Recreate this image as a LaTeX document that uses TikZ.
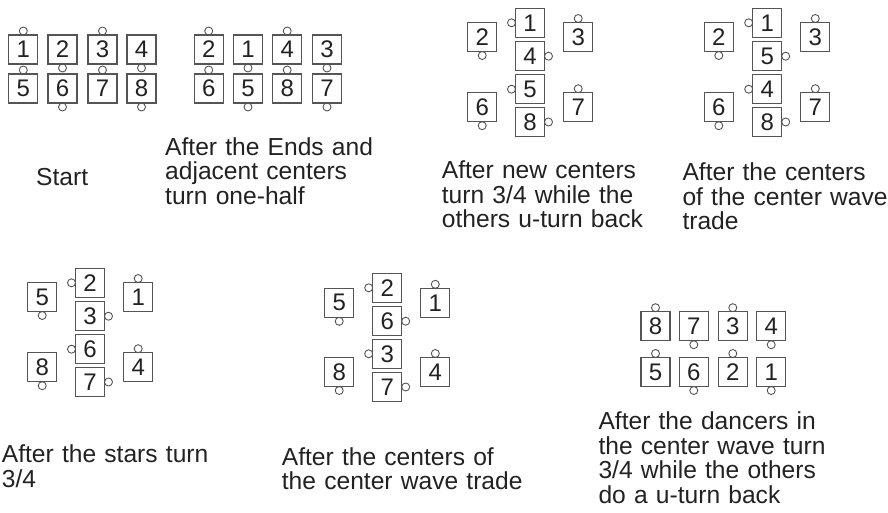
\documentclass[tikz,border=0pt]{standalone}
\usepackage{fontspec}
\setmainfont{Liberation Sans}
\usetikzlibrary{positioning}
\definecolor{boxgray}{HTML}{555555}
\definecolor{inkc}{HTML}{222222}
\tikzset{
  dancerbox/.style={draw=boxgray, line width=1.2pt, minimum size=29pt, inner sep=0pt, outer sep=0pt,
    text=inkc, font=\fontsize{24}{24}\selectfont},
  facedot/.style={circle, draw=boxgray, line width=0.9pt, minimum size=8pt, inner sep=0pt, outer sep=0pt},
  lbl/.style={anchor=base west, inner sep=0pt, align=left, text width=280pt, text=inkc,
    font=\fontsize{24.6}{24.7}\selectfont}
}
\newcommand\dancer[4]{%
  \node[dancerbox] (#1) at (#2) {#3};
  \node[facedot, #4=0pt of #1] (#1f) {};
}
\begin{document}
\begin{tikzpicture}[x=1pt,y=-1pt]
\useasboundingbox (0,0) rectangle (888,512);
% Panel 1: Start
\dancer{aA}{23.3,49.5}{1}{above}
\dancer{aB}{62.5,49.5}{2}{below}
\dancer{aC}{102.5,49.5}{3}{above}
\dancer{aD}{141.5,49.5}{4}{below}
\dancer{aE}{23.3,88.5}{5}{above}
\dancer{aF}{62.5,88.5}{6}{below}
\dancer{aG}{102.5,88.5}{7}{above}
\dancer{aH}{141.5,88.5}{8}{below}
\node[lbl] (la) at (36,185) {Start};
% Panel 2
\dancer{bA}{208.7,49.5}{2}{above}
\dancer{bB}{248,49.5}{1}{below}
\dancer{bC}{287.2,49.5}{4}{above}
\dancer{bD}{327,49.5}{3}{below}
\dancer{bE}{208.7,88.5}{6}{above}
\dancer{bF}{248,88.5}{5}{below}
\dancer{bG}{287.2,88.5}{8}{above}
\dancer{bH}{327,88.5}{7}{below}
\node[lbl] (lb) at (165,155) {After the Ends and\\adjacent centers\\turn one-half};
% Panel 3
\dancer{cA}{482.2,37}{2}{below}
\dancer{cB}{530,22.8}{1}{left}
\dancer{cC}{530,56.2}{4}{right}
\dancer{cD}{578.2,37}{3}{above}
\dancer{cE}{482.2,107.2}{6}{below}
\dancer{cF}{530,89.2}{5}{left}
\dancer{cG}{530,122}{8}{right}
\dancer{cH}{578.2,107.2}{7}{above}
\node[lbl] (lc) at (441.7,178.3) {After new centers\\turn 3/4 while the\\others u-turn back};
% Panel 4
\dancer{dA}{718.8,37}{2}{below}
\dancer{dB}{767.2,22.8}{1}{left}
\dancer{dC}{767.2,56.2}{5}{right}
\dancer{dD}{815.3,37}{3}{above}
\dancer{dE}{718.8,107.2}{6}{below}
\dancer{dF}{767.2,89.2}{4}{left}
\dancer{dG}{767.2,122}{8}{right}
\dancer{dH}{815.3,107.2}{7}{above}
\node[lbl] (ld) at (682.3,180.5) {After the centers\\of the center wave\\trade};
% Panel 5
\dancer{eA}{42.2,297}{5}{below}
\dancer{eB}{90,282.8}{2}{left}
\dancer{eC}{90,316.2}{3}{right}
\dancer{eD}{138.2,297}{1}{above}
\dancer{eE}{42.2,367.2}{8}{below}
\dancer{eF}{90,349.2}{6}{left}
\dancer{eG}{90,382}{7}{right}
\dancer{eH}{138.2,367.2}{4}{above}
\node[lbl] (le) at (1.7,462.7) {After the stars turn\\3/4};
% Panel 6
\dancer{fA}{339.2,302.8}{5}{below}
\dancer{fB}{387.2,287.8}{2}{left}
\dancer{fC}{387.2,321.2}{6}{right}
\dancer{fD}{435.3,302.8}{1}{above}
\dancer{fE}{339.2,372}{8}{below}
\dancer{fF}{387.2,353.8}{3}{left}
\dancer{fG}{387.2,387}{7}{right}
\dancer{fH}{435.3,372}{4}{above}
\node[lbl] (lf) at (281.7,465) {After the centers of\\the center wave trade};
% Panel 7
\dancer{gA}{655.5,326.2}{8}{above}
\dancer{gB}{693.8,326.2}{7}{below}
\dancer{gC}{732.8,326.2}{3}{above}
\dancer{gD}{771.2,326.2}{4}{below}
\dancer{gE}{655.5,372}{5}{above}
\dancer{gF}{693.8,372}{6}{below}
\dancer{gG}{732.8,372}{2}{above}
\dancer{gH}{771.2,372}{1}{below}
\node[lbl] (lg) at (598.3,429.3) {After the dancers in\\the center wave turn\\3/4 while the others\\do a u-turn back};
\end{tikzpicture}
\end{document}
